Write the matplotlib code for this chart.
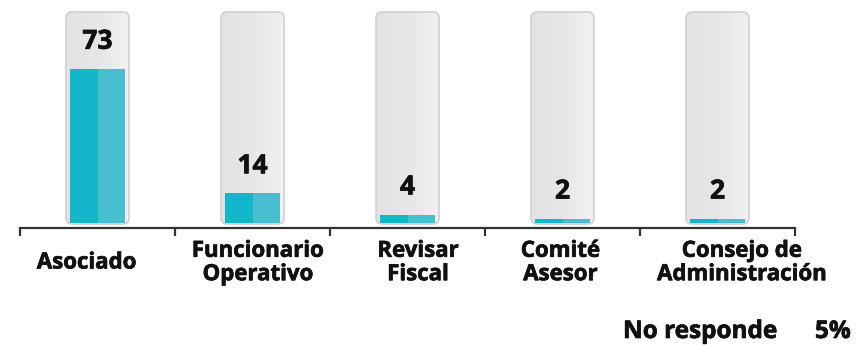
import matplotlib
matplotlib.use("Agg")
import matplotlib.pyplot as plt
import numpy as np
from matplotlib.patches import FancyBboxPatch
from matplotlib.colors import LinearSegmentedColormap
import matplotlib.patheffects as pe

# ---- data ----
categories = ["Asociado", "Funcionario\nOperativo", "Revisar\nFiscal", "Comité\nAsesor", "Consejo de\nAdministración"]
values = [73, 14, 4, 2, 2]
capacity = [100, 100, 100, 100, 100]
note_label = "No responde"
note_value = "5%"

# ---- layout / style ----
label_dx = [-0.07, 0.035, 0.068, -0.013, 0.158]
teal_dark = "#14B6CC"
teal_light = "#48BFD0"
font = "Open Sans"
txt_color = "#111111"
heavy = [pe.withStroke(linewidth=0.5, foreground=txt_color)]

W, H = 867, 345
fig = plt.figure(figsize=(W / 100, H / 100), dpi=100)
ax = fig.add_axes([20 / W, (H - 227.6) / H, 775 / W, 216.9 / H])
ax.set_xlim(-0.5, len(categories) - 0.5)
ax.set_ylim(-2.2, 100.6)

px_x = 775 / len(categories)          # pixels per x unit
px_y = 216.9 / (100.6 + 2.2)           # pixels per y unit
aspect = px_x / px_y

bg_w = 0.406
bar_w = 0.355
cmap = LinearSegmentedColormap.from_list("g", ["#E3E3E5", "#E6E6E8", "#F1F1F2"])
grad = np.linspace(0, 1, 64).reshape(1, -1)

for i, (v, c) in enumerate(zip(values, capacity)):
    x0 = i - bg_w / 2
    y0 = -0.5
    patch = FancyBboxPatch((x0, y0), bg_w, c - y0,
                           boxstyle="round,pad=0,rounding_size=0.04",
                           mutation_aspect=aspect,
                           facecolor="none", edgecolor="#D0D0D2", linewidth=1.2, zorder=3)
    ax.add_patch(patch)
    im = ax.imshow(grad, extent=[x0, x0 + bg_w, y0, c], aspect="auto",
                   cmap=cmap, zorder=2, interpolation="bilinear")
    im.set_clip_path(patch)
    ax.bar(i - bar_w / 4, v, width=bar_w / 2, bottom=0, color=teal_dark, zorder=4, linewidth=0)
    ax.bar(i + bar_w / 4, v, width=bar_w / 2, bottom=0, color=teal_light, zorder=4, linewidth=0)
    ax.annotate(str(v), (i, v), xytext=(0, 14.5), textcoords="offset points",
                ha="center", va="baseline", fontsize=19, fontweight="bold",
                family=font, color=txt_color, zorder=5, path_effects=heavy)

ax.set_xlim(-0.5, len(categories) - 0.5)
ax.set_ylim(-2.2, 100.6)

for s in ["top", "right", "left"]:
    ax.spines[s].set_visible(False)
ax.spines["bottom"].set_color("#333333")
ax.spines["bottom"].set_linewidth(1.6)
ax.set_yticks([])
ax.set_xticks(np.arange(-0.5, len(categories), 1.0))
ax.set_xticklabels([])
ax.tick_params(axis="x", direction="out", length=6, width=1.6, color="#333333")

ytext = (H - 263) / H
for i, cat in enumerate(categories):
    xf = (20 + (i + 0.5 + label_dx[i]) * px_x) / W
    fig.text(xf, ytext, cat, ha="center", va="center", fontsize=16,
             fontweight="bold", family=font, color=txt_color, linespacing=1.15,
             path_effects=heavy)

fig.text(623 / W, (H - 338) / H, note_label, ha="left", va="baseline", fontsize=17.5,
         fontweight="bold", family=font, color=txt_color, path_effects=heavy)
fig.text(815 / W, (H - 338) / H, note_value, ha="left", va="baseline", fontsize=17.5,
         fontweight="bold", family=font, color=txt_color, path_effects=heavy)

fig.savefig("out.png", dpi=100)
